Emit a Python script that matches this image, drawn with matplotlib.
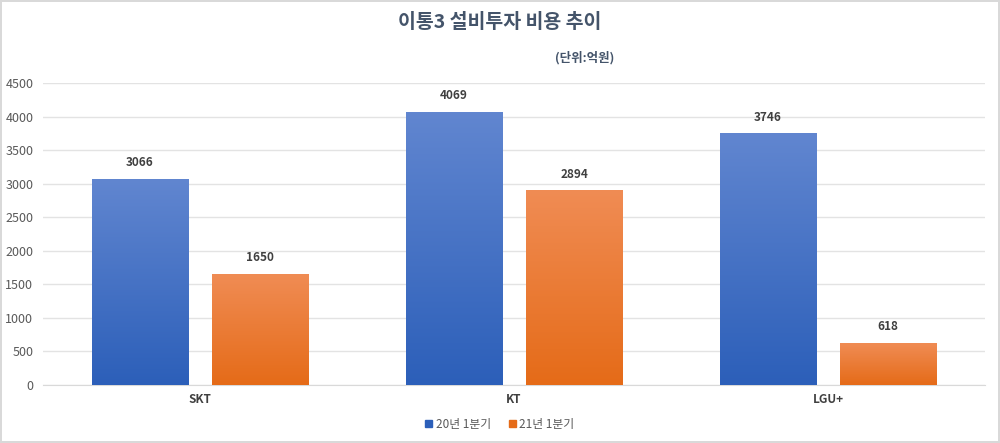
import numpy as np
import matplotlib
matplotlib.use("Agg")
import matplotlib.pyplot as plt
from matplotlib.colors import LinearSegmentedColormap
from matplotlib.patches import Rectangle

plt.rcParams['font.family'] = ['Noto Sans CJK KR', 'DejaVu Sans']

# data
companies = ['SKT', 'KT', 'LGU+']
q1_2020 = [3066, 4069, 3746]
q1_2021 = [1650, 2894, 618]
series_names = ['20년 1분기', '21년 1분기']

blue_top, blue_bot = '#6186d0', '#2c5fb9'
orange_top, orange_bot = '#f08c54', '#e56b18'

fig = plt.figure(figsize=(10, 4.43), dpi=100)
fig.patch.set_edgecolor('#d9d9d9')
fig.patch.set_linewidth(1.5)
ax = fig.add_axes([0.043, 0.131, 0.942, 0.6814])

x = np.arange(len(companies))
w = 0.306
off = 0.192


def grad_bars(xs, vals, top, bot, label):
    bars = ax.bar(xs, vals, w, color=bot, label=label, zorder=2)
    cmap = LinearSegmentedColormap.from_list('g', [bot, top])
    grad = np.linspace(0, 1, 256).reshape(-1, 1)
    for b in bars:
        x0, y0 = b.get_x(), b.get_y()
        bw, bh = b.get_width(), b.get_height()
        ax.imshow(grad, cmap=cmap, origin='lower', aspect='auto',
                  extent=(x0, x0 + bw, y0, y0 + bh), zorder=3)
        ax.text(x0 + bw / 2, bh + 150, str(int(bh)), ha='center', va='bottom',
                fontsize=8.5, fontweight='bold', color='#404040', zorder=4)
    return bars


grad_bars(x - off, q1_2020, blue_top, blue_bot, series_names[0])
grad_bars(x + off, q1_2021, orange_top, orange_bot, series_names[1])

ax.set_xlim(-0.5, 2.5)
ax.set_ylim(0, 4500)
ax.set_yticks(np.arange(0, 4501, 500))
ax.yaxis.grid(True, color='#e3e3e3', linewidth=1, zorder=0)
ax.set_axisbelow(True)
for s in ax.spines.values():
    s.set_visible(False)
ax.spines['bottom'].set_visible(True)
ax.spines['bottom'].set_color('#d9d9d9')
ax.tick_params(axis='both', length=0, colors='#595959', labelsize=9)
ax.tick_params(axis='y', pad=7)
ax.set_xticks(x)
ax.set_xticklabels(companies, fontweight='bold', color='#404040', fontsize=8.5)
ax.tick_params(axis='x', pad=6)

fig.text(0.5, 0.95, '이통3 설비투자 비용 추이', ha='center', va='center',
         fontsize=14, fontweight='bold', color='#44546a')
fig.text(0.585, 0.869, '(단위:억원)', ha='center', va='center',
         fontsize=9, fontweight='bold', color='#44546a')

handles = [Rectangle((0, 0), 1, 1, color=blue_bot), Rectangle((0, 0), 1, 1, color=orange_bot)]
fig.legend(handles, series_names, loc='center', bbox_to_anchor=(0.5, 0.042), ncol=2,
           frameon=False, fontsize=8.5, handlelength=0.6, handleheight=0.6,
           handletextpad=0.3, columnspacing=1.5, labelcolor='#595959')

fig.savefig('out.png', dpi=100, edgecolor=fig.get_edgecolor())
